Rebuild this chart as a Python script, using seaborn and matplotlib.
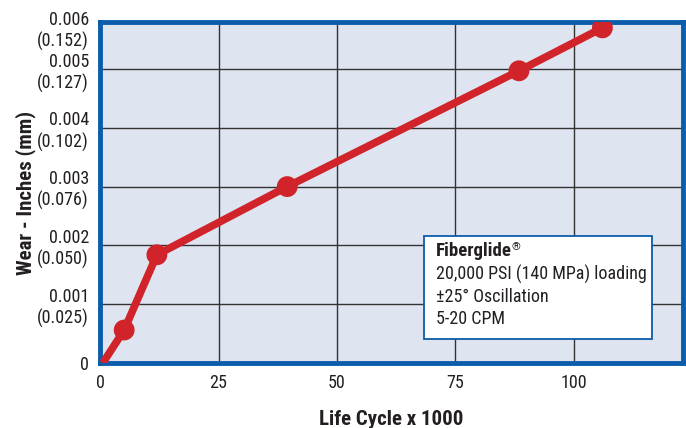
import matplotlib
matplotlib.use('Agg')
import matplotlib.pyplot as plt
import matplotlib.transforms as mtrans
import seaborn as sns
import pandas as pd
from matplotlib.patches import Rectangle

# data
life_cycle = [0.6, 5.1, 12.0, 39.5, 88.4, 106.0]     # x 1000 cycles
wear_in = [0.0, 0.00056, 0.00184, 0.0030, 0.00497, 0.0057]

y_ticks = [0, 0.001, 0.002, 0.003, 0.004, 0.005, 0.0058]
y_labels = ['0', '0.001\n(0.025)', '0.002\n(0.050)', '0.003\n(0.076)',
            '0.004\n(0.102)', '0.005\n(0.127)', '0.006\n(0.152)']
x_ticks = [0, 25, 50, 75, 100]

note_title = 'Fiberglide'
note_lines = ['20,000 PSI (140 MPa) loading', '\u00b125\u00b0 Oscillation', '5-20 CPM']

df = pd.DataFrame({'cycles': life_cycle, 'wear': wear_in})

sns.set_style('white')
plt.rcParams['font.family'] = ['Roboto Condensed', 'Liberation Sans', 'DejaVu Sans']

txt = '#231f20'
blue = '#0b5cab'
red = '#d0232a'

fig = plt.figure(figsize=(6.86, 4.28), dpi=100)
ax = fig.add_axes([0.1458, 0.152, 0.8498, 0.7966])
ax.set_facecolor('#dfe4f1')

sns.lineplot(data=df, x='cycles', y='wear', ax=ax, color=red, lw=5.5,
             solid_capstyle='butt', zorder=3)
sns.scatterplot(data=df.iloc[1:], x='cycles', y='wear', ax=ax, color=red,
                s=225, edgecolor='none', zorder=4)

ax.set_xlim(0, 123)
ax.set_ylim(0, 0.0058)
ax.set_xticks(x_ticks)
ax.set_xticklabels([str(v) for v in x_ticks], fontsize=13, color=txt)
ax.set_yticks(y_ticks)
ax.set_yticklabels(y_labels, fontsize=13, color=txt, linespacing=1.2)
ax.tick_params(length=0, pad=8)
# top label sits a little below the frame in the original
top_lab = ax.get_yticklabels()[-1]
top_lab.set_transform(top_lab.get_transform() +
                      mtrans.ScaledTranslation(0, -4 / 72, fig.dpi_scale_trans))
ax.grid(True, color='#333333', lw=1.0)
ax.set_axisbelow(True)
for sp in ax.spines.values():
    sp.set_color(blue)
    sp.set_linewidth(3.5)
    sp.set_visible(True)

ax.set_xlabel('Life Cycle x 1000', fontsize=15, fontweight='bold', color=txt, labelpad=13)
ax.set_ylabel('Wear - Inches (mm)', fontsize=15, fontweight='bold', color=txt, labelpad=1)

# note box
ax.add_patch(Rectangle((0.556, 0.070), 0.391, 0.302, transform=ax.transAxes,
                       facecolor='white', edgecolor=blue, lw=1.3, zorder=5))
x0 = 0.576
t = ax.text(x0, 0.328, note_title, transform=ax.transAxes, fontsize=13.5,
            fontweight='bold', color=txt, va='center', zorder=6)
ax.annotate('\u00ae', xy=(1, 0.75), xycoords=t, fontsize=8, color=txt,
            va='center', zorder=6)
for i, line in enumerate(note_lines):
    ax.text(x0, 0.260 - i * 0.066, line, transform=ax.transAxes, fontsize=13,
            color=txt, va='center', zorder=6)

fig.savefig('out.png', dpi=100)
